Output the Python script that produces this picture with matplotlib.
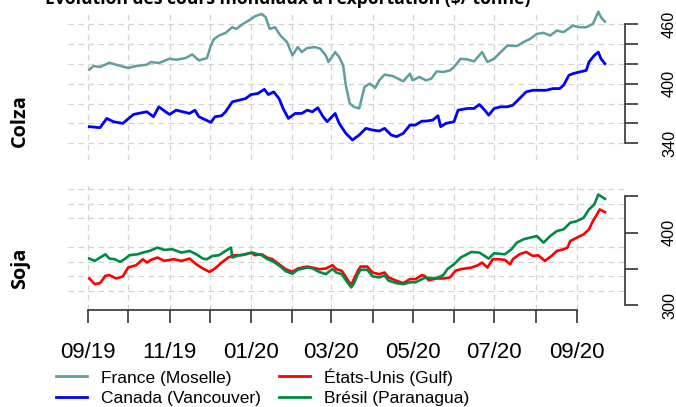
import pandas as pd
import matplotlib
matplotlib.use("Agg")
import matplotlib.pyplot as plt
import matplotlib.dates as mdates
from matplotlib.lines import Line2D

# -------------------------------
# Data ($/tonne)
# -------------------------------
france_dates = [
    "2019-09-02", "2019-09-05", "2019-09-10", "2019-09-17", "2019-09-22", "2019-10-01",
    "2019-10-07", "2019-10-15", "2019-10-18", "2019-10-24", "2019-11-01", "2019-11-06",
    "2019-11-13", "2019-11-18", "2019-11-23", "2019-11-29", "2019-12-02", "2019-12-04",
    "2019-12-08", "2019-12-13", "2019-12-18", "2019-12-21", "2019-12-26", "2019-12-31",
    "2020-01-04", "2020-01-09", "2020-01-12", "2020-01-15", "2020-01-19", "2020-01-23",
    "2020-01-28", "2020-02-01", "2020-02-05", "2020-02-08", "2020-02-12", "2020-02-18",
    "2020-02-22", "2020-02-26", "2020-02-28", "2020-03-04", "2020-03-07", "2020-03-10",
    "2020-03-12", "2020-03-15", "2020-03-18", "2020-03-22", "2020-03-26", "2020-03-30",
    "2020-04-03", "2020-04-06", "2020-04-10", "2020-04-16", "2020-04-20", "2020-04-24",
    "2020-04-29", "2020-05-01", "2020-05-06", "2020-05-11", "2020-05-15", "2020-05-19",
    "2020-05-24", "2020-05-29", "2020-06-01", "2020-06-06", "2020-06-11", "2020-06-16",
    "2020-06-22", "2020-06-26", "2020-07-01", "2020-07-06", "2020-07-11", "2020-07-18",
    "2020-07-23", "2020-07-28", "2020-08-02", "2020-08-07", "2020-08-12", "2020-08-17",
    "2020-08-22", "2020-08-29", "2020-09-03", "2020-09-08", "2020-09-13", "2020-09-17",
    "2020-09-19", "2020-09-22",
]
france_values = [
    414, 417.7, 416.7, 421, 419, 415.7,
    417.7, 419, 421.7, 420.7, 425, 424,
    425.7, 429.3, 423.3, 425.7, 438.3, 444.3,
    448.3, 451, 456.7, 455, 460, 464,
    467.7, 470, 466.7, 455, 456.7, 448.3,
    441.7, 428.3, 436.7, 431.7, 435.7, 436.7,
    435, 428.3, 421.7, 431.7, 426.7, 418.3,
    398.3, 380, 376.7, 375, 396.7, 400,
    395.7, 403.3, 409, 407.7, 405, 402.3,
    410, 403.3, 406.7, 403.3, 405, 412.3,
    411.7, 413.3, 416.7, 425, 424.3, 422.3,
    431.7, 421.7, 425, 431.7, 438.3, 437.7,
    441.7, 445, 450, 451, 448.3, 453.3,
    451.7, 458.3, 456.7, 456.7, 460, 472.3,
    466.7, 462.3,
]

canada_dates = [
    "2019-09-02", "2019-09-10", "2019-09-15", "2019-09-20", "2019-09-27", "2019-10-05",
    "2019-10-15", "2019-10-20", "2019-10-24", "2019-10-29", "2019-11-01", "2019-11-06",
    "2019-11-16", "2019-11-20", "2019-11-23", "2019-12-02", "2019-12-05", "2019-12-10",
    "2019-12-13", "2019-12-18", "2019-12-23", "2019-12-28", "2020-01-01", "2020-01-06",
    "2020-01-11", "2020-01-14", "2020-01-18", "2020-01-22", "2020-01-25", "2020-01-29",
    "2020-02-03", "2020-02-08", "2020-02-12", "2020-02-16", "2020-02-20", "2020-02-24",
    "2020-02-27", "2020-03-04", "2020-03-07", "2020-03-12", "2020-03-17", "2020-03-22",
    "2020-03-27", "2020-04-01", "2020-04-06", "2020-04-10", "2020-04-15", "2020-04-19",
    "2020-04-24", "2020-04-29", "2020-05-03", "2020-05-08", "2020-05-11", "2020-05-16",
    "2020-05-20", "2020-05-22", "2020-05-26", "2020-06-01", "2020-06-04", "2020-06-11",
    "2020-06-16", "2020-06-20", "2020-06-24", "2020-06-27", "2020-07-01", "2020-07-06",
    "2020-07-11", "2020-07-15", "2020-07-20", "2020-07-25", "2020-07-30", "2020-08-04",
    "2020-08-09", "2020-08-14", "2020-08-19", "2020-08-22", "2020-08-26", "2020-08-29",
    "2020-09-03", "2020-09-08", "2020-09-10", "2020-09-14", "2020-09-17", "2020-09-19",
    "2020-09-22",
]
canada_values = [
    356.7, 355.7, 365, 361.7, 360, 369,
    371.7, 366.7, 376.7, 371.7, 369, 373.3,
    370, 373.3, 366.7, 361, 366.7, 367.7,
    371.7, 381.7, 383.3, 385, 389, 390,
    394.3, 389, 391.7, 385, 375, 365,
    370, 370, 373.3, 371.7, 375.7, 366.7,
    361.7, 370, 360, 350, 343.3, 348.3,
    355, 353.3, 352.3, 355, 348.3, 346.7,
    350, 358.3, 358.3, 362.3, 362.3, 363.3,
    367.7, 356.7, 360, 361.7, 373.3, 375,
    375, 379, 373.3, 368.3, 375, 376.7,
    376.7, 378.3, 385, 391.7, 393.3, 393.3,
    393.3, 395, 395, 398.3, 408.3, 410,
    411.7, 413.3, 421.7, 428.3, 431.7, 425,
    420,
]

usa_dates = [
    "2019-09-02", "2019-09-06", "2019-09-10", "2019-09-14", "2019-09-17", "2019-09-22",
    "2019-09-27", "2019-10-01", "2019-10-07", "2019-10-12", "2019-10-15", "2019-10-18",
    "2019-10-23", "2019-10-28", "2019-11-04", "2019-11-10", "2019-11-16", "2019-11-21",
    "2019-11-26", "2019-12-01", "2019-12-05", "2019-12-10", "2019-12-15", "2019-12-19",
    "2019-12-25", "2020-01-01", "2020-01-04", "2020-01-09", "2020-01-13", "2020-01-17",
    "2020-01-22", "2020-01-27", "2020-02-01", "2020-02-05", "2020-02-12", "2020-02-16",
    "2020-02-21", "2020-02-26", "2020-03-02", "2020-03-05", "2020-03-09", "2020-03-13",
    "2020-03-16", "2020-03-18", "2020-03-21", "2020-03-23", "2020-03-28", "2020-04-01",
    "2020-04-06", "2020-04-10", "2020-04-13", "2020-04-19", "2020-04-24", "2020-04-29",
    "2020-05-03", "2020-05-08", "2020-05-10", "2020-05-13", "2020-05-19", "2020-05-24",
    "2020-05-29", "2020-06-02", "2020-06-06", "2020-06-14", "2020-06-19", "2020-06-22",
    "2020-06-26", "2020-06-30", "2020-07-05", "2020-07-09", "2020-07-13", "2020-07-15",
    "2020-07-20", "2020-07-25", "2020-07-30", "2020-08-03", "2020-08-08", "2020-08-13",
    "2020-08-17", "2020-08-22", "2020-08-25", "2020-08-27", "2020-09-01", "2020-09-06",
    "2020-09-10", "2020-09-13", "2020-09-16", "2020-09-18", "2020-09-22",
]
usa_values = [
    337, 329.2, 330.6, 340.6, 341.6, 337,
    339.7, 352, 355.3, 363.5, 358.9, 362.6,
    365.8, 361.2, 363.5, 361.2, 364.4, 356.6,
    350.7, 346.1, 350.7, 358.9, 365.8, 369,
    369, 372.6, 369, 370.3, 365.8, 363.5,
    356.6, 349.8, 346.1, 350.7, 353.4, 352,
    349.8, 350.7, 355.3, 349.8, 347.5, 336.1,
    327.9, 336.1, 347.5, 353.4, 353.4, 345.2,
    342.9, 345.2, 338.4, 333.8, 330.6, 336.1,
    336.1, 341.6, 340.6, 334.5, 337, 337,
    338.4, 347.5, 349.8, 352, 355.3, 358.9,
    352, 363.5, 363.5, 362.6, 356.6, 363.5,
    370.3, 373.5, 368, 369, 361.2, 368,
    374.9, 377.2, 379.5, 388.6, 393.2, 397.7,
    404.6, 416, 425.1, 432, 428.4,
]

bresil_dates = [
    "2019-09-02", "2019-09-06", "2019-09-10", "2019-09-14", "2019-09-17", "2019-09-21",
    "2019-09-25", "2019-09-29", "2019-10-02", "2019-10-08", "2019-10-12", "2019-10-17",
    "2019-10-23", "2019-10-28", "2019-11-03", "2019-11-10", "2019-11-16", "2019-11-21",
    "2019-11-26", "2019-11-29", "2019-12-03", "2019-12-08", "2019-12-13", "2019-12-17",
    "2019-12-18", "2019-12-23", "2019-12-28", "2020-01-02", "2020-01-09", "2020-01-13",
    "2020-01-17", "2020-01-22", "2020-01-27", "2020-02-01", "2020-02-05", "2020-02-12",
    "2020-02-16", "2020-02-21", "2020-02-26", "2020-03-02", "2020-03-05", "2020-03-09",
    "2020-03-13", "2020-03-16", "2020-03-18", "2020-03-21", "2020-03-23", "2020-03-28",
    "2020-04-01", "2020-04-06", "2020-04-10", "2020-04-13", "2020-04-19", "2020-04-24",
    "2020-04-29", "2020-05-03", "2020-05-08", "2020-05-11", "2020-05-16", "2020-05-20",
    "2020-05-24", "2020-05-27", "2020-06-01", "2020-06-06", "2020-06-14", "2020-06-20",
    "2020-06-27", "2020-07-01", "2020-07-09", "2020-07-14", "2020-07-18", "2020-07-23",
    "2020-07-28", "2020-08-02", "2020-08-07", "2020-08-12", "2020-08-17", "2020-08-22",
    "2020-08-27", "2020-09-01", "2020-09-06", "2020-09-10", "2020-09-14", "2020-09-17",
    "2020-09-19", "2020-09-22",
]
bresil_values = [
    364.4, 361.2, 365.8, 370.3, 364.4, 363.5,
    359.8, 364.4, 369, 370.3, 372.6, 374.9,
    379.5, 376.3, 377.2, 372.6, 374.9, 370.3,
    364.4, 363.5, 368, 369, 374.9, 379.5,
    365.8, 369, 370.3, 372.6, 369, 364,
    361, 355, 347, 343.5, 349, 352,
    351, 346, 343, 350, 345, 343,
    332, 324.7, 330, 343, 349, 349,
    340, 338.4, 341, 334, 330.6, 329.2,
    331.7, 331.7, 336, 338.4, 337, 338.4,
    341.6, 349.8, 356.6, 365.8, 373.5, 372.6,
    364.4, 371.7, 370.3, 377.2, 386.3, 390.9,
    393.2, 395.4, 386.3, 395.4, 402.3, 404.6,
    413.7, 416, 420.5, 432, 438.8, 452.5,
    450.2, 446.6,
]

colza_ticks = [340, 360, 380, 400, 420, 440, 460]
colza_labels = ["340", "", "", "400", "", "", "460"]
soja_ticks = [300, 350, 400, 450]
soja_labels = ["300", "", "400", ""]
soja_grid = [300, 320, 340, 360, 380, 400, 420, 440, 460]

# -------------------------------
# Style
# -------------------------------
C_FRANCE = "#5F9EA0"
C_CANADA = "#0000FF"
C_USA = "#FF0000"
C_BRESIL = "#008B45"
GRID = dict(color="#D3D3D3", linestyle=(0, (4.5, 3.5)), linewidth=0.9)
AX_COL = "#333333"
TICK_FONT = "Liberation Sans"
BOLD_FONT = "Open Sans"

W, H = 676, 407
fig = plt.figure(figsize=(W / 100, H / 100), dpi=100)
ax1 = fig.add_axes([68 / W, 1 - 160 / H, 557 / W, 150 / H])
ax2 = fig.add_axes([68 / W, 1 - 310 / H, 557 / W, 124 / H])

xmin, xmax = pd.Timestamp("2019-08-17"), pd.Timestamp("2020-10-07")
month_ticks = pd.date_range("2019-09-01", "2020-09-01", freq="MS")


def month_label(v, pos):
    d = mdates.num2date(v)
    return d.strftime("%m/%y") if d.month % 2 == 1 else ""


# -------------------------------
# Colza panel
# -------------------------------
ax1.plot(pd.to_datetime(france_dates), france_values, color=C_FRANCE, lw=1.8)
ax1.plot(pd.to_datetime(canada_dates), canada_values, color=C_CANADA, lw=2.0)
ax1.set_ylim(323.2, 474)
ax1.set_yticks(colza_ticks)
ax1.set_yticklabels(colza_labels)

# -------------------------------
# Soja panel
# -------------------------------
ax2.plot(pd.to_datetime(usa_dates), usa_values, color=C_USA, lw=1.9)
ax2.plot(pd.to_datetime(bresil_dates), bresil_values, color=C_BRESIL, lw=1.9)
ax2.set_ylim(293.6, 464.3)
ax2.set_yticks(soja_ticks)
ax2.set_yticklabels(soja_labels)
ax2.set_yticks(soja_grid, minor=True)

for ax in (ax1, ax2):
    ax.set_xlim(xmin, xmax)
    ax.set_xticks(month_ticks)
    ax.set_axisbelow(True)
    for s in ("left", "top", "bottom"):
        ax.spines[s].set_visible(False)
    ax.spines["right"].set_color(AX_COL)
    ax.spines["right"].set_linewidth(1.2)
    ax.yaxis.tick_right()
    ax.tick_params(axis="y", which="major", length=9, width=1.2, color=AX_COL,
                   pad=23, labelsize=11.7, labelrotation=90)
    ax.tick_params(axis="y", which="minor", length=0)
    ax.grid(axis="x", **GRID)
    for lab in ax.get_yticklabels():
        lab.set_fontfamily(TICK_FONT)
        lab.set_va("center")
        lab.set_ha("center")

ax1.spines["right"].set_bounds(colza_ticks[0], colza_ticks[-1])
ax1.grid(axis="y", which="major", **GRID)
ax1.tick_params(axis="x", length=0, labelbottom=False)

ax2.spines["right"].set_bounds(soja_ticks[0], soja_ticks[-1])
ax2.grid(axis="y", which="minor", **GRID)
ax2.spines["bottom"].set_visible(True)
ax2.spines["bottom"].set_color(AX_COL)
ax2.spines["bottom"].set_linewidth(1.2)
ax2.spines["bottom"].set_bounds(mdates.date2num(month_ticks[0]), mdates.date2num(month_ticks[-1]))
ax2.xaxis.set_major_formatter(plt.FuncFormatter(month_label))
ax2.tick_params(axis="x", length=9, width=1.2, color=AX_COL, pad=14, labelsize=16)
for lab in ax2.get_xticklabels():
    lab.set_fontfamily(TICK_FONT)

# -------------------------------
# Titles / labels
# -------------------------------
fig.text(288 / W, 1 - 4.5 / H, "Évolution des cours mondiaux à l'exportation ($/ tonne)",
         ha="center", va="baseline", fontsize=12.6, fontweight="bold", family=BOLD_FONT)
fig.text(20 / W, 1 - 121 / H, "Colza", rotation=90, ha="center", va="center",
         fontsize=14.3, fontweight="bold", family=BOLD_FONT)
fig.text(20 / W, 1 - 268 / H, "Soja", rotation=90, ha="center", va="center",
         fontsize=14.3, fontweight="bold", family=BOLD_FONT)

handles = [Line2D([], [], color=C_FRANCE, lw=2), Line2D([], [], color=C_CANADA, lw=2),
           Line2D([], [], color=C_USA, lw=2), Line2D([], [], color=C_BRESIL, lw=2)]
labels = ["France (Moselle)", "Canada (Vancouver)", "États-Unis (Gulf)", "Brésil (Paranagua)"]
fig.legend(handles, labels, ncol=2, loc="upper left", bbox_to_anchor=(56 / W, 1 - 368 / H),
           frameon=False, borderpad=0, borderaxespad=0, handlelength=1.8, handletextpad=0.8,
           columnspacing=1.05, labelspacing=0.3, prop={"family": TICK_FONT, "size": 12.5})

fig.savefig("out.png", dpi=100)
